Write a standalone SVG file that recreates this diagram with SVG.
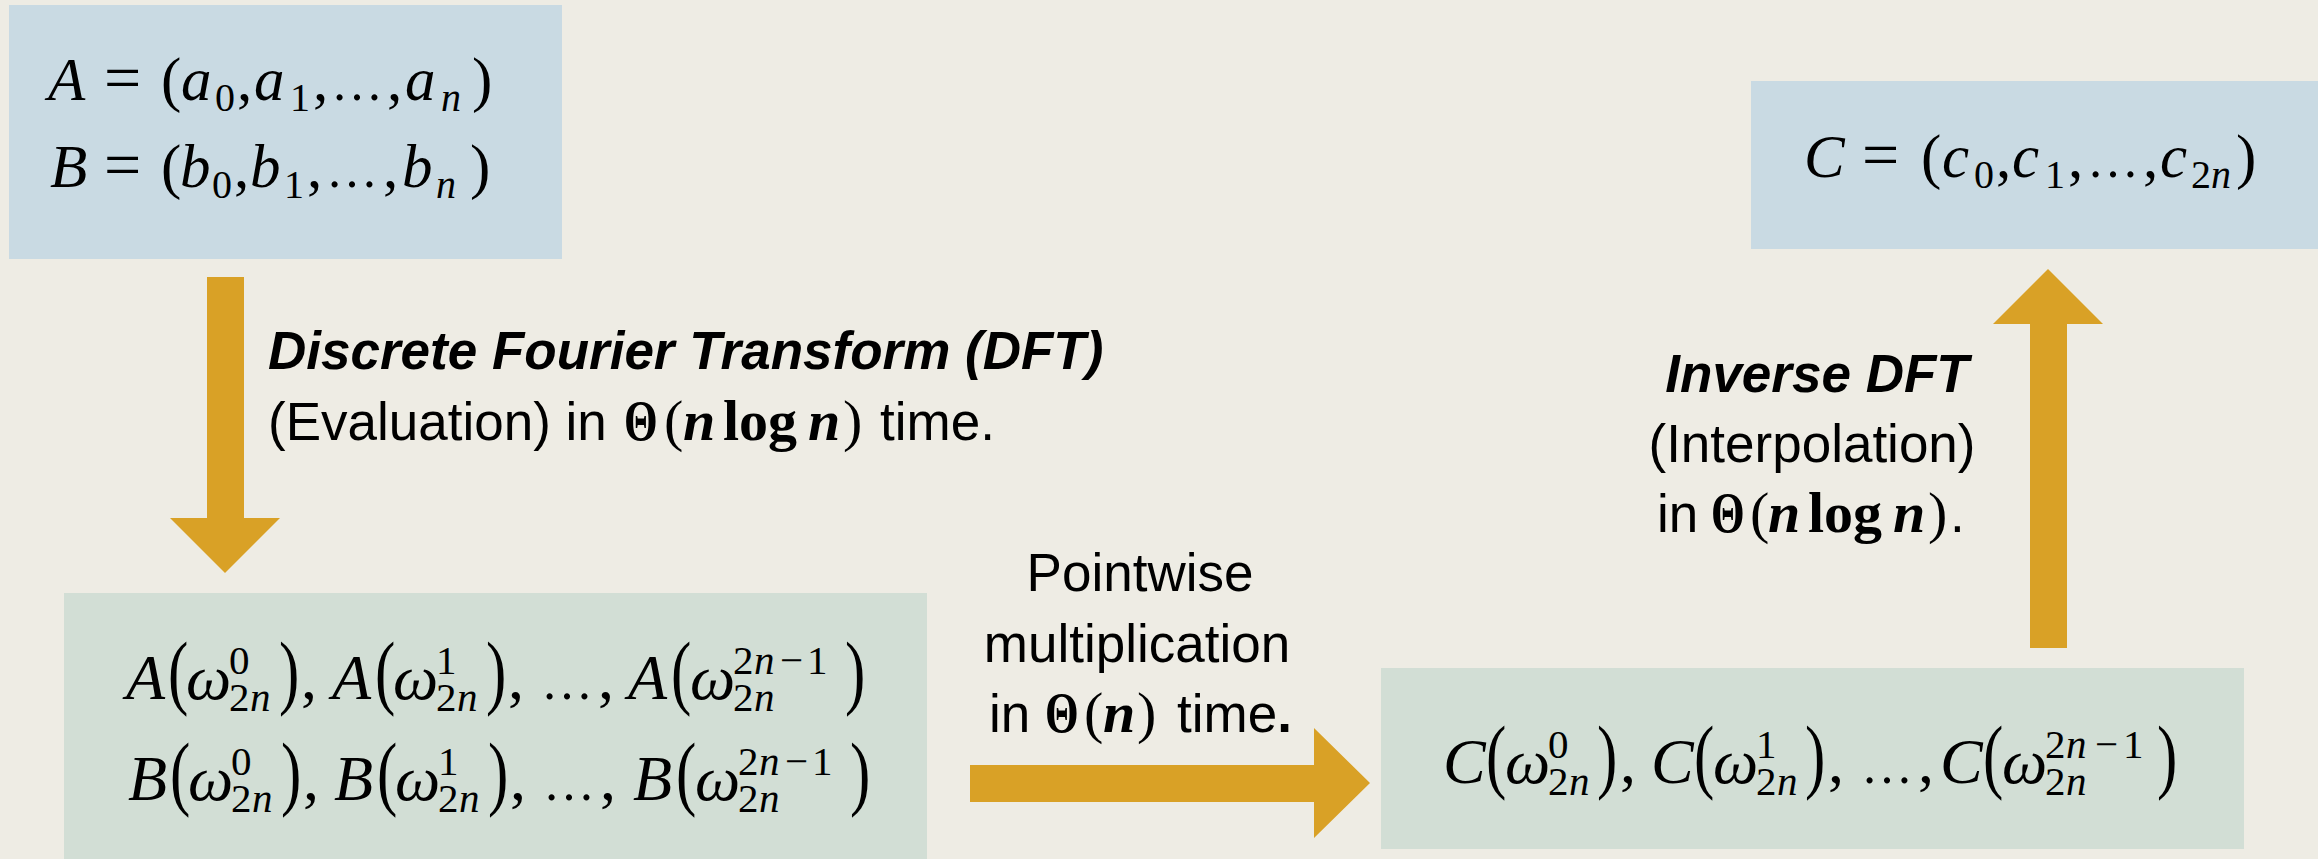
<svg xmlns="http://www.w3.org/2000/svg" width="2318" height="859" viewBox="0 0 2318 859">
<style>
.blue{fill:#C9DAE3}
.green{fill:#D2DED5}
.arrow{fill:#D9A126}
.m{font-family:"Liberation Serif",serif;font-size:61px;fill:#000}
.b{font-size:64px}
.i{font-style:italic}
.s{font-size:40px}
.ss{font-size:41px}
.eq{font-size:66px}
.el{font-size:52px}
.lab{font-family:"Liberation Sans",Arial,sans-serif;font-size:53px;fill:#000}
.bi{font-weight:bold;font-style:italic}
.mb{font-family:"Liberation Serif",serif;font-weight:bold;font-size:58px}
.th{font-family:"Liberation Serif",serif;font-weight:bold;font-size:57px;fill:#000}
.mbi{font-family:"Liberation Serif",serif;font-weight:bold;font-style:italic;font-size:58px}
.mr{font-family:"Liberation Serif",serif;font-size:58px}
</style>
<rect width="2318" height="859" fill="#EEECE4"/>

<g id="connectors">
  <polygon class="arrow" points="207,277 244,277 244,518 280,518 225,573 170,518 207,518"/>
  <polygon class="arrow" points="970,765 1314,765 1314,728 1370,783 1314,838 1314,802 970,802"/>
  <polygon class="arrow" points="2030,648 2030,324 1993,324 2048,269 2103,324 2067,324 2067,648"/>
</g>

<g id="node-AB">
  <rect class="blue" x="9" y="5" width="553" height="254"/>
  <text class="m"><tspan class="i" x="48" y="100">A</tspan><tspan class="eq" x="104">=</tspan><tspan x="161">(</tspan><tspan class="i" x="181">a</tspan><tspan class="s" x="215" y="111">0</tspan><tspan x="237" y="100">,</tspan><tspan class="i" x="254">a</tspan><tspan class="s" x="290" y="111">1</tspan><tspan x="313" y="100">,</tspan><tspan class="el" x="331">…</tspan><tspan x="387">,</tspan><tspan class="i" x="405">a</tspan><tspan class="s i" x="441" y="111">n</tspan><tspan x="472" y="100">)</tspan></text>
  <text class="m"><tspan class="i" x="50" y="187">B</tspan><tspan class="eq" x="104">=</tspan><tspan x="161">(</tspan><tspan class="i" x="180">b</tspan><tspan class="s" x="212" y="198">0</tspan><tspan x="234" y="187">,</tspan><tspan class="i" x="250">b</tspan><tspan class="s" x="284" y="198">1</tspan><tspan x="307" y="187">,</tspan><tspan class="el" x="326">…</tspan><tspan x="383">,</tspan><tspan class="i" x="402">b</tspan><tspan class="s i" x="436" y="198">n</tspan><tspan x="470" y="187">)</tspan></text>
</g>

<g id="node-C">
  <rect class="blue" x="1751" y="81" width="567" height="168"/>
  <text class="m"><tspan class="i" x="1804" y="177">C</tspan><tspan class="eq" x="1862">=</tspan><tspan x="1921">(</tspan><tspan class="i" x="1942">c</tspan><tspan class="s" x="1974" y="188">0</tspan><tspan x="1996" y="177">,</tspan><tspan class="i" x="2012">c</tspan><tspan class="s" x="2045" y="188">1</tspan><tspan x="2068" y="177">,</tspan><tspan class="el" x="2087">…</tspan><tspan x="2143">,</tspan><tspan class="i" x="2160">c</tspan><tspan class="s" x="2191" y="188">2</tspan><tspan class="s i" x="2211" y="188">n</tspan><tspan x="2236" y="177">)</tspan></text>
</g>

<g id="node-AB-values">
  <rect class="green" x="64" y="593" width="863" height="266"/>
  <text class="m b"><tspan class="i" x="126" y="699">A</tspan><tspan class="i" x="186">ω</tspan><tspan class="ss" x="229" y="674">0</tspan><tspan class="ss" x="229" y="711">2</tspan><tspan class="ss i" x="250">n</tspan><tspan x="301" y="699">,</tspan><tspan class="i" x="332">A</tspan><tspan class="i" x="393">ω</tspan><tspan class="ss" x="436" y="674">1</tspan><tspan class="ss" x="436" y="711">2</tspan><tspan class="ss i" x="457">n</tspan><tspan x="508" y="699">,</tspan><tspan class="el" x="541">…</tspan><tspan x="598">,</tspan><tspan class="i" x="628">A</tspan><tspan class="i" x="690">ω</tspan><tspan class="ss" x="733" y="674">2</tspan><tspan class="ss i" x="754">n</tspan><tspan class="ss" x="780">−</tspan><tspan class="ss" x="807">1</tspan><tspan class="ss" x="733" y="711">2</tspan><tspan class="ss i" x="754">n</tspan></text>
  <text class="m" transform="translate(168,699) scale(1,1.36)">(</text>
  <text class="m" transform="translate(279,699) scale(1,1.36)">)</text>
  <text class="m" transform="translate(375,699) scale(1,1.36)">(</text>
  <text class="m" transform="translate(486,699) scale(1,1.36)">)</text>
  <text class="m" transform="translate(671,699) scale(1,1.36)">(</text>
  <text class="m" transform="translate(845,699) scale(1,1.36)">)</text>
  <text class="m b"><tspan class="i" x="128" y="800">B</tspan><tspan class="i" x="188">ω</tspan><tspan class="ss" x="231" y="775">0</tspan><tspan class="ss" x="231" y="812">2</tspan><tspan class="ss i" x="252">n</tspan><tspan x="303" y="800">,</tspan><tspan class="i" x="334">B</tspan><tspan class="i" x="395">ω</tspan><tspan class="ss" x="438" y="775">1</tspan><tspan class="ss" x="438" y="812">2</tspan><tspan class="ss i" x="459">n</tspan><tspan x="510" y="800">,</tspan><tspan class="el" x="543">…</tspan><tspan x="600">,</tspan><tspan class="i" x="633">B</tspan><tspan class="i" x="695">ω</tspan><tspan class="ss" x="738" y="775">2</tspan><tspan class="ss i" x="759">n</tspan><tspan class="ss" x="785">−</tspan><tspan class="ss" x="812">1</tspan><tspan class="ss" x="738" y="812">2</tspan><tspan class="ss i" x="759">n</tspan></text>
  <text class="m" transform="translate(170,800) scale(1,1.36)">(</text>
  <text class="m" transform="translate(281,800) scale(1,1.36)">)</text>
  <text class="m" transform="translate(377,800) scale(1,1.36)">(</text>
  <text class="m" transform="translate(488,800) scale(1,1.36)">)</text>
  <text class="m" transform="translate(676,800) scale(1,1.36)">(</text>
  <text class="m" transform="translate(850,800) scale(1,1.36)">)</text>
</g>

<g id="node-C-values">
  <rect class="green" x="1381" y="668" width="863" height="181"/>
  <text class="m b"><tspan class="i" x="1443" y="783">C</tspan><tspan class="i" x="1505">ω</tspan><tspan class="ss" x="1548" y="758">0</tspan><tspan class="ss" x="1548" y="795">2</tspan><tspan class="ss i" x="1569">n</tspan><tspan x="1620" y="783">,</tspan><tspan class="i" x="1651">C</tspan><tspan class="i" x="1713">ω</tspan><tspan class="ss" x="1756" y="758">1</tspan><tspan class="ss" x="1756" y="795">2</tspan><tspan class="ss i" x="1777">n</tspan><tspan x="1828" y="783">,</tspan><tspan class="el" x="1861">…</tspan><tspan x="1918">,</tspan><tspan class="i" x="1940">C</tspan><tspan class="i" x="2002">ω</tspan><tspan class="ss" x="2045" y="758">2</tspan><tspan class="ss i" x="2066">n</tspan><tspan class="ss" x="2095">−</tspan><tspan class="ss" x="2123">1</tspan><tspan class="ss" x="2045" y="795">2</tspan><tspan class="ss i" x="2066">n</tspan></text>
  <text class="m" transform="translate(1486,783) scale(1,1.36)">(</text>
  <text class="m" transform="translate(1597,783) scale(1,1.36)">)</text>
  <text class="m" transform="translate(1694,783) scale(1,1.36)">(</text>
  <text class="m" transform="translate(1805,783) scale(1,1.36)">)</text>
  <text class="m" transform="translate(1983,783) scale(1,1.36)">(</text>
  <text class="m" transform="translate(2157,783) scale(1,1.36)">)</text>
</g>

<g id="label-dft">
  <text class="lab bi" x="268" y="369">Discrete Fourier Transform (DFT)</text>
  <text class="lab" y="440"><tspan x="268">(Evaluation) in</tspan><tspan class="mr" x="664">(</tspan><tspan class="mbi" x="683">n</tspan><tspan class="mb" x="723">log</tspan><tspan class="mbi" x="808">n</tspan><tspan class="mr" x="843">)</tspan><tspan x="880">time.</tspan></text>
  <text class="th" transform="translate(624,440) scale(0.76,1)">Θ</text>
</g>

<g id="label-pointwise">
  <text class="lab" x="1140" y="591" text-anchor="middle">Pointwise</text>
  <text class="lab" x="1137" y="662" text-anchor="middle">multiplication</text>
  <text class="lab" y="732"><tspan x="989">in</tspan><tspan class="mr" x="1084">(</tspan><tspan class="mbi" x="1103">n</tspan><tspan class="mr" x="1137">)</tspan><tspan x="1177">time</tspan><tspan font-weight="bold">.</tspan></text>
  <text class="th" transform="translate(1045,732) scale(0.76,1)">Θ</text>
</g>

<g id="label-inverse">
  <text class="lab bi" x="1817" y="392" text-anchor="middle">Inverse DFT</text>
  <text class="lab" x="1812" y="462" text-anchor="middle">(Interpolation)</text>
  <text class="lab" y="532"><tspan x="1657">in</tspan><tspan class="mr" x="1750">(</tspan><tspan class="mbi" x="1768">n</tspan><tspan class="mb" x="1808">log</tspan><tspan class="mbi" x="1893">n</tspan><tspan class="mr" x="1928">)</tspan><tspan x="1950">.</tspan></text>
  <text class="th" transform="translate(1711,532) scale(0.76,1)">Θ</text>
</g>
</svg>
